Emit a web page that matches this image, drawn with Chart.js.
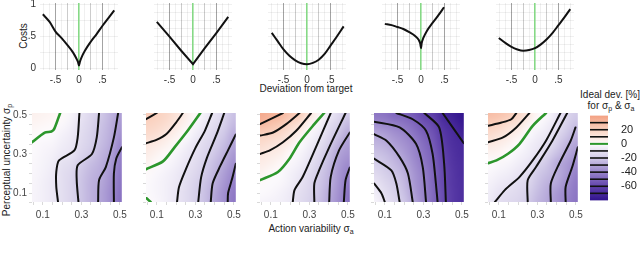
<!DOCTYPE html>
<html><head><meta charset="utf-8">
<script src="https://cdn.jsdelivr.net/npm/chart.js@4/dist/chart.umd.min.js"></script>
<style>
body{margin:0;width:640px;height:253px;background:#fff;position:relative;overflow:hidden;font-family:"Liberation Sans",Arial,sans-serif}
canvas{position:absolute}
.t{position:absolute;font-size:10px;color:#222;white-space:nowrap;line-height:11px;transform:translate(-50%,-50%)}
.r{transform:translate(-50%,-50%) rotate(-90deg)}
sub{font-size:7px;vertical-align:-2px;line-height:0}
</style></head><body>
<div class="t r" style="left:23px;top:36px">Costs</div>
<div class="t" style="left:306px;top:88px">Deviation from target</div>
<div class="t r" style="left:6px;top:160px">Perceptual uncertainty σ<sub>p</sub></div>
<div class="t" style="left:311px;top:228px">Action variability σ<sub>a</sub></div>
<div class="t" style="left:610px;top:94px">Ideal dev. [%]</div>
<div class="t" style="left:611px;top:105px">for σ<sub>p</sub> &amp; σ<sub>a</sub></div>
<script>
// ---------- top row: cost functions ----------
const dev1 = [-0.77,-0.625,-0.5,-0.375,-0.25,-0.125,-0.05,-0.02,0,0.02,0.05,0.125,0.25,0.375,0.5,0.625,0.75];
const cost1 = [0.84,0.72,0.57,0.47,0.36,0.24,0.14,0.09,0.04,0.10,0.16,0.27,0.41,0.53,0.66,0.78,0.90];
const dev2 = [-0.77,-0.5,-0.25,0,0.25,0.5,0.75];
const cost2 = [0.72,0.49,0.27,0.06,0.31,0.55,0.80];
const dev3 = [-0.75,-0.625,-0.5,-0.375,-0.25,-0.125,0,0.125,0.25,0.375,0.5,0.625,0.78];
const cost3 = [0.55,0.42,0.29,0.19,0.12,0.075,0.06,0.08,0.13,0.22,0.35,0.48,0.65];
const dev4 = [-0.77,-0.625,-0.5,-0.375,-0.25,-0.125,-0.05,-0.015,0,0.015,0.05,0.125,0.25,0.375,0.49];
const cost4 = [0.69,0.67,0.64,0.61,0.56,0.50,0.44,0.38,0.31,0.39,0.47,0.58,0.71,0.83,0.95];
const dev5 = [-0.77,-0.625,-0.5,-0.375,-0.25,-0.125,0,0.125,0.25,0.375,0.5,0.625,0.75];
const cost5 = [0.47,0.39,0.33,0.29,0.27,0.28,0.31,0.37,0.45,0.55,0.67,0.79,0.92];
const devTicks = [-0.75,-0.625,-0.5,-0.375,-0.25,-0.125,0,0.125,0.25,0.375,0.5,0.625,0.75];
const devTickLabels = {"-0.5":"-.5","0":"0","0.5":".5"};
const costTicks = [0,0.125,0.25,0.375,0.5,0.625,0.75,0.875,1];
const costTickLabels = {"0":"0","0.5":".5","1":"1"};

// ---------- bottom row: ideal deviation maps ----------
const sigmaA = [0.05,0.1,0.15,0.2,0.25,0.3,0.35,0.4,0.45,0.5];
const sigmaP = [0.05,0.1,0.15,0.2,0.25,0.3,0.35,0.4,0.45,0.5];
const sigmaTickLabels = {"0.1":"0.1","0.3":"0.3","0.5":"0.5"};
// rows: sigmaP from 0.05 (first) to 0.5 (last); columns: sigmaA 0.05..0.5
const heat1 = [
[-3,-5,-8,-12,-16,-22,-27,-31,-37,-46],
[-3,-5,-8,-12,-16,-22,-27,-31,-37,-45],
[-2.5,-5,-8,-12,-16,-22,-27,-30,-36,-44],
[-2,-4,-7,-12,-15,-21.5,-26,-29,-35,-43],
[-1.5,-3.5,-6,-11,-13,-19.5,-24,-27.5,-33,-42],
[-1,-3,-4.5,-8,-10,-16,-20.5,-26,-31,-41],
[-0.5,-2,-3,-6,-8.5,-14,-18,-24,-29,-39],
[1,0,-1,-4,-7,-13,-17,-23,-28,-36],
[3,2,1,-1.5,-5,-11.5,-16,-22,-27,-34],
[5,4,3,1,-3,-10,-15,-20.5,-26,-32]];
const heat2 = [
[1,-2,-5,-9,-13,-18,-23,-31,-37,-44],
[-1,-3,-5,-9,-13,-18,-23,-30,-37,-43],
[-1,-3,-5,-8,-12,-17,-22,-28,-35,-41],
[1,-2,-4,-7,-11,-15,-20,-26,-33,-39],
[4,1,-2,-5,-9,-13,-18,-24,-30,-37],
[7,4,1,-3,-7,-11,-16,-21,-27,-34],
[10,8,5,1,-4,-9,-14,-18,-24,-31],
[15,13,9,5,0,-6,-11,-16,-21,-29],
[19,17,14,9,4,-2,-8,-13,-18,-25],
[22,20,17,12,7,1,-5,-10,-16,-23]];
const heat3 = [
[-3,-4,-5,-8,-13,-17,-23,-30,-37,-46],
[-1,-2,-4,-7,-12,-16,-22,-29,-36,-45],
[1,-1,-2,-5,-10,-15,-21,-27,-35,-43],
[4,1,-1,-4,-8,-13,-20,-26,-34,-41],
[7,5,2,-2,-5,-10.5,-17,-24,-33,-38],
[10,8,6,1,-3,-8,-14,-22,-31,-35],
[15,12,10,6,-0.5,-5,-11,-19,-27,-33],
[20,19,16,11,5,-2,-7,-15,-22,-30],
[30,26,23,17,12,3,-3,-12,-18,-25],
[36,33,31,25,21,11,2,-7,-14,-20]];
const heat4 = [
[-3,-10,-15,-21,-30,-39,-48,-57,-64,-68],
[-6,-12,-17,-23,-32,-40,-48,-57,-64,-68],
[-10,-15,-19,-25,-34,-40,-49,-58,-65,-68],
[-14,-18,-22,-27,-35,-41,-49,-58,-65,-69],
[-18,-21,-25,-30,-37,-43,-50,-59,-66,-69],
[-22,-24,-28,-33,-39,-45,-51,-60,-67,-70],
[-26,-28,-32,-36,-40,-47,-53,-62,-68,-70],
[-30,-32,-36,-39,-44,-50,-55,-64,-69,-73],
[-37,-39,-41,-44,-48,-54,-58,-67,-71,-76],
[-44,-45,-49,-49,-53,-59,-62,-71,-75,-79]];
const heat5 = [
[-7,-12,-14,-16,-20,-26,-30,-35,-40,-45],
[-6,-10,-12,-14,-18,-24,-29,-34,-39,-44],
[-4,-7,-9,-12,-15,-22,-27,-30,-37,-43],
[-2,-4,-6,-9,-12,-20,-24,-28,-34,-41],
[0,-1.5,-3,-6,-9,-16,-21,-29,-33,-38],
[4,3,0,-3,-6,-10,-16,-23,-29,-34],
[9,7,4,0,-4,-8,-11,-18,-26,-31],
[15,12,9,5,-1,-5,-8,-14,-21,-28],
[21,19,14,11,4,-1,-5,-10,-17,-23],
[28,26,23,17,10,2,-1,-9,-15,-20]];

// contour lines: [level, [[sigmaA, sigmaP], ...]]
const cont1 = [
[0,[[.044,.36],[.11,.41],[.145,.415],[.16,.43],[.19,.51]]],
[-10,[[.29,.51],[.281,.385],[.264,.318],[.184,.267],[.17,.208],[.17,.132],[.179,.054]]],
[-20,[[.392,.51],[.38,.385],[.355,.30],[.281,.242],[.276,.166],[.285,.054]]],
[-30,[[.491,.51],[.469,.385],[.427,.233],[.392,.166],[.387,.054]]],
[-40,[[.51,.334],[.481,.276],[.469,.20],[.469,.054]]]];
const cont2 = [
[20,[[.044,.478],[.10,.51]]],
[10,[[.044,.355],[.098,.372],[.15,.402],[.20,.461],[.235,.51]]],
[0,[[.044,.222],[.132,.262],[.192,.334],[.26,.419],[.326,.51]]],
[0,[[.047,.073],[.068,.054]]],
[-10,[[.387,.51],[.35,.42],[.30,.33],[.25,.22],[.215,.13],[.205,.054]]],
[-20,[[.45,.51],[.41,.40],[.36,.28],[.33,.18],[.315,.054]]],
[-30,[[.51,.40],[.47,.32],[.43,.24],[.39,.15],[.38,.054]]],
[-40,[[.51,.25],[.49,.17],[.47,.10],[.468,.054]]]];
const cont3 = [
[30,[[.044,.453],[.163,.51]]],
[20,[[.044,.394],[.112,.41],[.18,.453],[.249,.51]]],
[10,[[.044,.30],[.095,.318],[.163,.36],[.232,.419],[.309,.51]]],
[0,[[.044,.166],[.137,.208],[.197,.276],[.249,.36],[.326,.453],[.377,.51]]],
[-10,[[.411,.51],[.334,.334],[.266,.183],[.223,.115],[.214,.054]]],
[-20,[[.488,.51],[.403,.334],[.351,.217],[.326,.149],[.326,.054]]],
[-30,[[.51,.41],[.454,.318],[.411,.183],[.403,.054]]],
[-40,[[.51,.23],[.488,.166],[.479,.054]]]];
const cont4 = [
[-10,[[.044,.149],[.083,.098],[.10,.054]]],
[-20,[[.044,.276],[.134,.216],[.16,.149],[.177,.054]]],
[-30,[[.044,.402],[.109,.368],[.177,.284],[.22,.20],[.245,.054]]],
[-40,[[.044,.465],[.177,.436],[.262,.352],[.297,.233],[.314,.054]]],
[-50,[[.16,.51],[.245,.478],[.314,.419],[.348,.301],[.365,.15],[.374,.054]]],
[-60,[[.305,.51],[.382,.436],[.408,.25],[.417,.054]]],
[-70,[[.40,.51],[.51,.355]]]];
const cont5 = [
[20,[[.044,.444],[.114,.461],[.165,.478],[.191,.51]]],
[10,[[.044,.36],[.122,.385],[.191,.436],[.259,.51]]],
[0,[[.044,.253],[.088,.267],[.148,.301],[.208,.352],[.276,.444],[.345,.51]]],
[-10,[[.08,.054],[.131,.115],[.208,.183],[.276,.267],[.345,.368],[.42,.51]]],
[-20,[[.25,.054],[.25,.166],[.293,.233],[.378,.368],[.455,.51]]],
[-30,[[.37,.054],[.37,.149],[.413,.25],[.473,.368],[.498,.436]]],
[-40,[[.447,.054],[.447,.132],[.481,.233],[.51,.334]]]];

// ---------- colour bar ----------
const cbarRange = [-80, 40];
const cbarTicks = [20, 0, -20, -40, -60];
const cbarLevels = [30, 20, 10, 0, -10, -20, -30, -40, -50, -60, -70];

// ---------- styling ----------
const FONT = "'Liberation Sans', Arial, sans-serif";
Chart.defaults.font.family = FONT;
const cmapVals = [-80,-60,-40,-20,0,20,40];
const cmapRGB = [[48,18,140],[98,68,172],[152,132,202],[210,203,232],[253,251,253],[250,210,192],[243,160,130]];
function cmap(v){
  if (v <= cmapVals[0]) return cmapRGB[0];
  for (let i=1;i<cmapVals.length;i++){
    if (v <= cmapVals[i]){
      const t=(v-cmapVals[i-1])/(cmapVals[i]-cmapVals[i-1]);
      const a=cmapRGB[i-1], b=cmapRGB[i];
      return [0,1,2].map(j=>Math.round(a[j]+(b[j]-a[j])*t));
    }
  }
  return cmapRGB[cmapRGB.length-1];
}
const key = v => String(Math.round(v*1000)/1000);

const heatPlugin = {
  id:'heat',
  beforeDatasetsDraw(chart){
    const ds = chart.data.datasets.find(d=>d.heat);
    if(!ds) return;
    const xs=[...new Set(ds.data.map(p=>p.x))].sort((a,b)=>a-b);
    const ys=[...new Set(ds.data.map(p=>p.y))].sort((a,b)=>a-b);
    const nx=xs.length, ny=ys.length;
    const off=document.createElement('canvas'); off.width=nx; off.height=ny;
    const octx=off.getContext('2d'); const img=octx.createImageData(nx,ny);
    ds.data.forEach(p=>{
      const i=xs.indexOf(p.x), j=ny-1-ys.indexOf(p.y);
      const c=cmap(p.v); const o=(j*nx+i)*4;
      img.data[o]=c[0]; img.data[o+1]=c[1]; img.data[o+2]=c[2]; img.data[o+3]=255;
    });
    octx.putImageData(img,0,0);
    const sx=chart.scales.x, sy=chart.scales.y, ca=chart.chartArea, ctx=chart.ctx;
    const hx=(xs[1]-xs[0])/2, hy=(ys[1]-ys[0])/2;
    const x0=sx.getPixelForValue(xs[0]-hx), x1=sx.getPixelForValue(xs[nx-1]+hx);
    const y0=sy.getPixelForValue(ys[ny-1]+hy), y1=sy.getPixelForValue(ys[0]-hy);
    ctx.save(); ctx.beginPath(); ctx.rect(ca.left,ca.top,ca.width,ca.height); ctx.clip();
    ctx.imageSmoothingEnabled=true; ctx.imageSmoothingQuality='high';
    ctx.drawImage(off,x0,y0,x1-x0,y1-y0);
    ctx.restore();
  }
};

function place(cv, left, top, w, h){
  cv.width=w; cv.height=h; cv.style.left=left+'px'; cv.style.top=top+'px';
  document.body.appendChild(cv);
}

const devs=[dev1,dev2,dev3,dev4,dev5], costs=[cost1,cost2,cost3,cost4,cost5];
function makeTop(k){
  const cx=79+114*k, plotL=cx-39, plotT=3, plotW=78, plotH=67;
  const PL=4, PR=10, PT=12, YW=36, XH=20;
  const cv=document.createElement('canvas');
  place(cv, plotL-PL-YW, plotT-PT, PL+YW+plotW+PR, PT+plotH+XH);
  new Chart(cv,{
    type:'line',
    data:{datasets:[{data:devs[k].map((d,i)=>({x:d,y:costs[k][i]})),borderColor:'#111',borderWidth:2,
      pointRadius:0,fill:false,tension:0,cubicInterpolationMode:k===1?'default':'monotone'}]},
    options:{responsive:false,animation:false,events:[],
      layout:{padding:{left:PL,right:PR,top:PT,bottom:0}},
      plugins:{legend:{display:false},tooltip:{enabled:false}},
      scales:{
        y:{type:'linear',min:-0.031,max:1.016,
          afterBuildTicks:s=>{s.ticks=costTicks.map(v=>({value:v}));},
          afterFit:s=>{s.width=YW;},
          ticks:{display:k===0,padding:4,color:'#333',font:{size:10},
            callback:v=>costTickLabels[key(v)]||''},
          grid:{drawTicks:false,color:'rgba(0,0,0,0.06)'},
          border:{display:false}},
        x:{type:'linear',min:-0.83,max:0.83,
          afterBuildTicks:s=>{s.ticks=devTicks.map(v=>({value:v}));},
          afterFit:s=>{s.height=XH;},
          ticks:{autoSkip:false,maxRotation:0,padding:4,color:'#333',font:{size:10},
            callback:v=>devTickLabels[key(v)]||''},
          grid:{drawTicks:false,
            color:c=>{const v=c.tick?c.tick.value:1;
              if(Math.abs(v)<1e-9) return '#86d986';
              if(Math.abs(Math.abs(v)-0.5)<1e-9) return 'rgba(0,0,0,0.36)';
              if(Math.abs(Math.abs(v)-0.25)<1e-9) return 'rgba(0,0,0,0.2)';
              return 'rgba(0,0,0,0.06)';},
            lineWidth:c=>{const v=c.tick?c.tick.value:1; return Math.abs(v)<1e-9?1.6:1;}},
          border:{display:false}}
      }}
  });
}

const heats=[heat1,heat2,heat3,heat4,heat5], conts=[cont1,cont2,cont3,cont4,cont5];
function makeBottom(k){
  const plotL=32+114*k, plotT=113, plotW=91, plotH=89;
  const PL=2, PR=8, PT=8, YW=30, XH=22;
  const cv=document.createElement('canvas');
  place(cv, plotL-PL-YW, plotT-PT, PL+YW+plotW+PR, PT+plotH+XH);
  const cells=[];
  sigmaP.forEach((p,j)=>sigmaA.forEach((a,i)=>cells.push({x:a,y:p,v:heats[k][j][i]})));
  const datasets=[{data:cells,heat:true,showLine:false,pointRadius:0,borderWidth:0}];
  conts[k].forEach(([lev,pts])=>{
    datasets.push({data:pts.map(p=>({x:p[0],y:p[1]})),
      borderColor:lev===0?'#2c962c':'#111',borderWidth:lev===0?2.6:2,
      pointRadius:0,fill:false,tension:0.25,borderCapStyle:'round',borderJoinStyle:'round'});
  });
  new Chart(cv,{
    type:'line',
    data:{datasets},
    plugins:[heatPlugin],
    options:{responsive:false,animation:false,events:[],
      layout:{padding:{left:PL,right:PR,top:PT,bottom:0}},
      plugins:{legend:{display:false},tooltip:{enabled:false}},
      scales:{
        x:{type:'linear',min:0.044,max:0.51,
          afterBuildTicks:s=>{s.ticks=sigmaA.map(v=>({value:v}));},
          afterFit:s=>{s.height=XH;},
          ticks:{autoSkip:false,maxRotation:0,padding:4,color:'#444',font:{size:10},
            callback:v=>sigmaTickLabels[key(v)]||''},
          grid:{drawOnChartArea:false,drawTicks:true,tickLength:3,color:'#d9d9d9'},
          border:{display:false}},
        y:{type:'linear',min:0.054,max:0.51,
          afterBuildTicks:s=>{s.ticks=sigmaP.map(v=>({value:v}));},
          afterFit:s=>{s.width=YW;},
          ticks:{display:k===0,autoSkip:false,padding:2,color:'#444',font:{size:10},
            callback:v=>sigmaTickLabels[key(v)]||''},
          grid:{drawOnChartArea:false,drawTicks:true,tickLength:3,color:'#d9d9d9'},
          border:{display:false}}
      }}
  });
}

function makeColorbar(){
  const plotL=590, plotT=112, plotW=18, plotH=92;
  const PL=4, PT=8, PB=8, YW=32;
  const cv=document.createElement('canvas');
  place(cv, plotL-PL, plotT-PT, PL+plotW+YW, PT+plotH+PB);
  const levelPlugin={id:'levels',afterDatasetsDraw(chart){
    const sy=chart.scales.y, ca=chart.chartArea, ctx=chart.ctx;
    ctx.save();
    cbarLevels.forEach(l=>{
      const y=sy.getPixelForValue(l);
      ctx.strokeStyle=l===0?'#2c962c':'#111'; ctx.lineWidth=l===0?2:1.6;
      ctx.beginPath(); ctx.moveTo(ca.left,y); ctx.lineTo(ca.right,y); ctx.stroke();
    });
    ctx.restore();
  }};
  new Chart(cv,{
    type:'bar',
    data:{labels:[''],datasets:[{data:[cbarRange],barPercentage:1,categoryPercentage:1,borderWidth:0,
      backgroundColor:c=>{
        const ch=c.chart; if(!ch.chartArea) return '#fff';
        const sy=ch.scales.y;
        const g=ch.ctx.createLinearGradient(0,sy.getPixelForValue(cbarRange[0]),0,sy.getPixelForValue(cbarRange[1]));
        cmapVals.forEach((v,i)=>{const col=cmapRGB[i];
          g.addColorStop((v-cbarRange[0])/(cbarRange[1]-cbarRange[0]),'rgb('+col.join(',')+')');});
        return g;}}]},
    plugins:[levelPlugin],
    options:{responsive:false,animation:false,events:[],
      layout:{padding:{left:PL,right:0,top:PT,bottom:PB}},
      plugins:{legend:{display:false},tooltip:{enabled:false}},
      scales:{
        x:{display:false},
        y:{position:'right',min:cbarRange[0],max:cbarRange[1],
          afterBuildTicks:s=>{s.ticks=cbarTicks.map(v=>({value:v}));},
          afterFit:s=>{s.width=YW;},
          ticks:{padding:5,color:'#222',font:{size:11}},
          grid:{display:false},border:{display:false}}
      }}
  });
}

for(let k=0;k<5;k++){ makeTop(k); makeBottom(k); }
makeColorbar();
</script>
</body></html>
